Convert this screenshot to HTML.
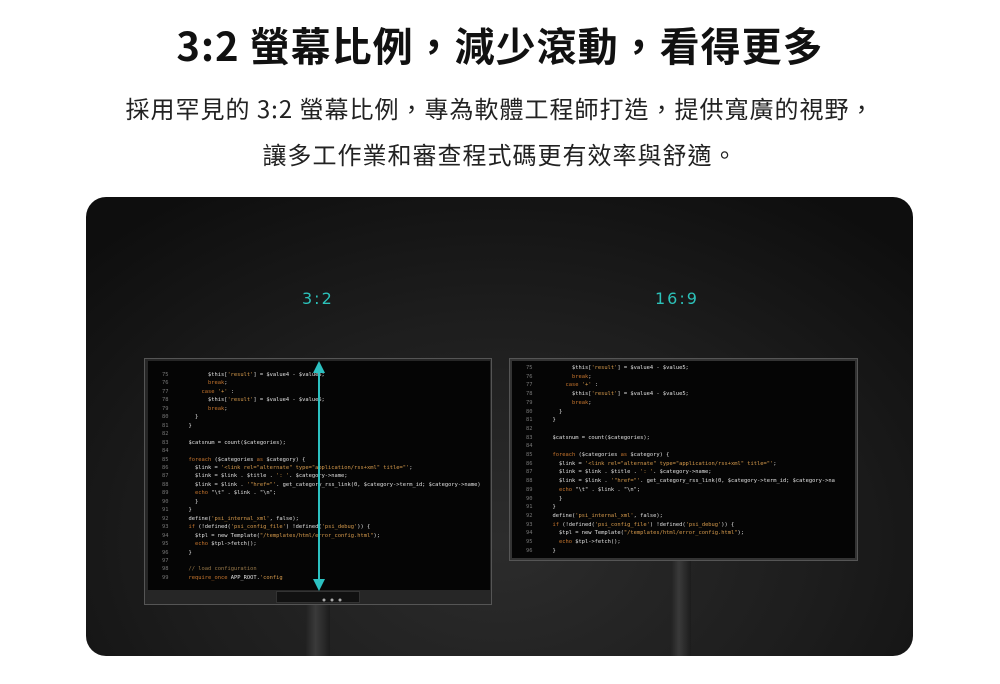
<!DOCTYPE html>
<html><head><meta charset="utf-8">
<style>
*{margin:0;padding:0;box-sizing:border-box}
body{width:1000px;height:684px;background:#fff;position:relative;overflow:hidden;font-family:"Liberation Sans","Noto Sans CJK TC",sans-serif}
.t{position:absolute;left:0;width:1000px;text-align:center;color:#111}
h1.t{top:16px;font-size:40px;font-weight:700;letter-spacing:1px;line-height:56px;font-family:"Noto Sans CJK TC",sans-serif}
.s{font-size:24px;letter-spacing:1px;color:#222;line-height:32px;font-family:"Noto Sans CJK TC",sans-serif}
#panel{position:absolute;left:86px;top:197px;width:827px;height:459px;border-radius:20px;overflow:hidden;
background:radial-gradient(ellipse 70% 90% at 50% 75%,#2c2c2c 0%,#1d1d1d 55%,#0e0e0e 100%)}
.lab{position:absolute;color:#2cc1b9;font-size:16px;letter-spacing:2px;font-family:"DejaVu Sans",sans-serif}
.mon{position:absolute;background:#2a2a2a;border:1px solid #555}
.scr{position:absolute;background:#050505;overflow:hidden}
.code{position:absolute;font-family:"DejaVu Sans Mono",monospace;font-size:5.4px;color:#e0e0e0;white-space:pre;line-height:8.46px}
.n{color:#777;display:inline-block;width:20px}
.k{color:#c9772e}.q{color:#d79b4c}.c{color:#9a7a4a}
.stand{position:absolute;background:linear-gradient(90deg,#222,#3a3a3a 40%,#1c1c1c)}
</style></head><body>
<h1 class="t">3:2 螢幕比例，減少滾動，看得更多</h1>
<div class="t s" style="top:92px">採用罕見的 3:2 螢幕比例，專為軟體工程師打造，提供寬廣的視野，</div>
<div class="t s" style="top:138px">讓多工作業和審查程式碼更有效率與舒適。</div>
<div id="panel">
 <div class="lab" style="left:216px;top:92px">3:2</div>
 <div class="lab" style="left:569px;top:92px">16:9</div>
 <div class="stand" style="left:220px;top:404px;width:24px;height:60px"></div>
 <div class="mon" style="left:58px;top:161px;width:348px;height:247px;background:#262626"></div>
 <div style="position:absolute;left:190px;top:394px;width:84px;height:12px;background:#111;border:1px solid #333"></div>
 <div class="scr" style="left:62px;top:164px;width:342px;height:229px">
<div class="code" style="left:14px;top:10px"><span class="n">75</span>        $this[<span class="q">'result'</span>] = $value4 - $value5;
<span class="n">76</span>        <span class="k">break</span>;
<span class="n">77</span>      <span class="k">case</span> <span class="q">'+'</span> :
<span class="n">78</span>        $this[<span class="q">'result'</span>] = $value4 - $value5;
<span class="n">79</span>        <span class="k">break</span>;
<span class="n">80</span>    }
<span class="n">81</span>  }
<span class="n">82</span>
<span class="n">83</span>  $catsnum = count($categories);
<span class="n">84</span>
<span class="n">85</span>  <span class="k">foreach</span> ($categories <span class="k">as</span> $category) {
<span class="n">86</span>    $link = <span class="q">'&lt;link rel="alternate" type="application/rss+xml" title="'</span>;
<span class="n">87</span>    $link = $link . $title . <span class="q">': '</span>. $category-&gt;name;
<span class="n">88</span>    $link = $link . <span class="q">'"href="'</span>. get_category_rss_link(0, $category-&gt;term_id; $category-&gt;name)
<span class="n">89</span>    <span class="k">echo</span> "\t" . $link . "\n";
<span class="n">90</span>    }
<span class="n">91</span>  }
<span class="n">92</span>  define(<span class="q">'psi_internal_xml'</span>, false);
<span class="n">93</span>  <span class="k">if</span> (!defined(<span class="q">'psi_config_file'</span>) !defined(<span class="q">'psi_debug'</span>)) {
<span class="n">94</span>    $tpl = new Template(<span class="q">"/templates/html/error_config.html"</span>);
<span class="n">95</span>    <span class="k">echo</span> $tpl-&gt;fetch();
<span class="n">96</span>  }
<span class="n">97</span>
<span class="n">98</span>  <span class="c">// load configuration</span>
<span class="n">99</span>  <span class="k">require_once</span> APP_ROOT.<span class="q">'config</span></div>
 </div>
 <svg style="position:absolute;left:0;top:0" width="827" height="459">
  <line x1="233" y1="172" x2="233" y2="386" stroke="#2cc1c1" stroke-width="2"/>
  <polygon points="233,164 227,176 239,176" fill="#2cc1c1"/>
  <polygon points="233,394 227,382 239,382" fill="#2cc1c1"/>
  <circle cx="238" cy="403" r="1.5" fill="#aaa"/><circle cx="246" cy="403" r="1.5" fill="#aaa"/><circle cx="254" cy="403" r="1.5" fill="#aaa"/>
 </svg>
 <div class="stand" style="left:585px;top:362px;width:20px;height:100px"></div>
 <div class="mon" style="left:423px;top:161px;width:349px;height:203px;background:#333"></div>
 <div class="scr" style="left:426px;top:164px;width:343px;height:197px">
<div class="code" style="left:14px;top:3px;line-height:8.7px"><span class="n">75</span>        $this[<span class="q">'result'</span>] = $value4 - $value5;
<span class="n">76</span>        <span class="k">break</span>;
<span class="n">77</span>      <span class="k">case</span> <span class="q">'+'</span> :
<span class="n">78</span>        $this[<span class="q">'result'</span>] = $value4 - $value5;
<span class="n">79</span>        <span class="k">break</span>;
<span class="n">80</span>    }
<span class="n">81</span>  }
<span class="n">82</span>
<span class="n">83</span>  $catsnum = count($categories);
<span class="n">84</span>
<span class="n">85</span>  <span class="k">foreach</span> ($categories <span class="k">as</span> $category) {
<span class="n">86</span>    $link = <span class="q">'&lt;link rel="alternate" type="application/rss+xml" title="'</span>;
<span class="n">87</span>    $link = $link . $title . <span class="q">': '</span>. $category-&gt;name;
<span class="n">88</span>    $link = $link . <span class="q">'"href="'</span>. get_category_rss_link(0, $category-&gt;term_id; $category-&gt;na
<span class="n">89</span>    <span class="k">echo</span> "\t" . $link . "\n";
<span class="n">90</span>    }
<span class="n">91</span>  }
<span class="n">92</span>  define(<span class="q">'psi_internal_xml'</span>, false);
<span class="n">93</span>  <span class="k">if</span> (!defined(<span class="q">'psi_config_file'</span>) !defined(<span class="q">'psi_debug'</span>)) {
<span class="n">94</span>    $tpl = new Template(<span class="q">"/templates/html/error_config.html"</span>);
<span class="n">95</span>    <span class="k">echo</span> $tpl-&gt;fetch();
<span class="n">96</span>  }</div>
 </div>
</div>
</body></html>
